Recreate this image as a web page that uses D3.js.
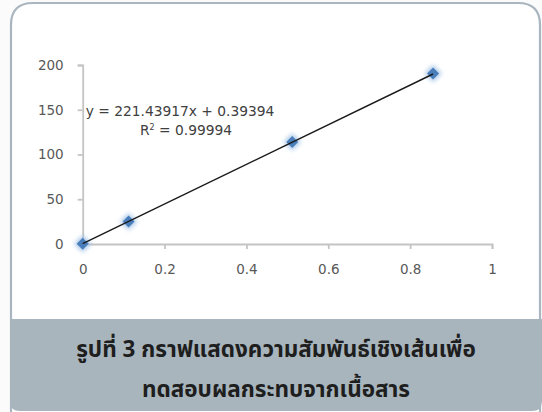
<!DOCTYPE html>
<html>
<head>
<meta charset="utf-8">
<script src="https://cdn.jsdelivr.net/npm/d3@7"></script>
<style>
  body { margin: 0; background: #fbfbfc; }
  svg { display: block; }
</style>
</head>
<body>
<script>
const width = 542;
const height = 412;

// data
const xValues = [0, 0.112, 0.512, 0.856];
const yValues = [0.3, 25, 114, 190.5];
const xTicks = [0, 0.2, 0.4, 0.6, 0.8, 1];
const yTicks = [0, 50, 100, 150, 200];
const slope = 221.43917;
const intercept = 0.39394;
const eqText = "y = 221.43917x + 0.39394";
const r2Value = "0.99994";
const captionLines = ["รูปที่ 3 กราฟแสดงความสัมพันธ์เชิงเส้นเพื่อ", "ทดสอบผลกระทบจากเนื้อสาร"];

const color = {
    border: "#a9b6c0",
    caption: "#a8b5bd",
    axis: "#c4c4c4",
    tickText: "#585858",
    point: "#4a7ebb",
    trend: "#1a1a1a"
}

let svg = d3.select("body").append("svg")
    .attr("width", width)
    .attr("height", height)

// card with rounded corners
const cx0 = 11, cy0 = 3, cx1 = 540, r = 22;
svg.append("path")
    .attr("d", `M${cx0},${height} L${cx0},${cy0 + r} Q${cx0},${cy0} ${cx0 + r},${cy0} L${cx1 - r},${cy0} Q${cx1},${cy0} ${cx1},${cy0 + r} L${cx1},${height}`)
    .attr("fill", "#fff")
    .attr("stroke", color.border)
    .attr("stroke-width", 2.2)

// caption box
const capTop = 319, capBottom = 411, cr = 10;
svg.append("path")
    .attr("d", `M10,${capTop} L542,${capTop} L542,${capBottom - cr} Q542,${capBottom} ${542 - cr},${capBottom} L${10 + cr},${capBottom} Q10,${capBottom} 10,${capBottom - cr} Z`)
    .attr("fill", color.caption)

svg.append("g")
    .selectAll("text")
    .data(captionLines)
    .enter()
    .append("text")
    .attr("x", 276)
    .attr("y", (d, i) => 357 + i * 40)
    .attr("text-anchor", "middle")
    .attr("font-family", "'Noto Sans Thai', 'Noto Sans', 'DejaVu Sans', sans-serif")
    .attr("font-weight", "bold")
    .attr("font-size", 22.5)
    .attr("fill", "#1e1e1e")
    .text(d => d)

// chart
const x = d3.scaleLinear().domain([0, 1]).range([82.7, 492]);
const y = d3.scaleLinear().domain([0, 200]).range([244, 65]);

let chartG = svg.append("g")

let yAxis = chartG.append("g")
    .attr("transform", `translate(${x(0)},0)`)
    .call(d3.axisLeft(y).tickValues(yTicks).tickSize(5).tickPadding(14))
let xAxis = chartG.append("g")
    .attr("transform", `translate(0,${y(0)})`)
    .call(d3.axisBottom(x).tickValues(xTicks).tickSize(5).tickPadding(15)
        .tickFormat(d => String(+d.toFixed(1))))

chartG.selectAll(".domain, .tick line")
    .attr("stroke", color.axis)
    .attr("stroke-width", 1.8)
chartG.selectAll(".tick text")
    .attr("font-family", "'DejaVu Sans', sans-serif")
    .attr("font-size", 13.5)
    .attr("fill", color.tickText)

// markers with soft glow
let defs = svg.append("defs")
defs.append("filter").attr("id", "glow")
    .attr("x", "-100%").attr("y", "-100%").attr("width", "300%").attr("height", "300%")
    .append("feGaussianBlur").attr("stdDeviation", 2)

const pts = xValues.map((v, i) => [v, yValues[i]]);
const marker = d3.symbol().type(d3.symbolSquare);

chartG.append("g")
    .selectAll("path")
    .data(pts)
    .enter()
    .append("path")
    .attr("transform", d => `translate(${x(d[0])},${y(d[1])}) rotate(45)`)
    .attr("d", marker.size(150))
    .attr("fill", "#9fc1e6")
    .attr("opacity", 0.85)
    .attr("filter", "url(#glow)")

chartG.append("g")
    .selectAll("path")
    .data(pts)
    .enter()
    .append("path")
    .attr("transform", d => `translate(${x(d[0])},${y(d[1])}) rotate(45)`)
    .attr("d", marker.size(72))
    .attr("fill", color.point)

// linear trend line
const xMax = d3.max(xValues);
chartG.append("line")
    .attr("x1", x(0))
    .attr("y1", y(intercept))
    .attr("x2", x(xMax))
    .attr("y2", y(slope * xMax + intercept))
    .attr("stroke", color.trend)
    .attr("stroke-width", 1.4)

let eqG = chartG.append("g")
    .attr("font-family", "'DejaVu Sans', sans-serif")
    .attr("font-size", 13.8)
    .attr("fill", "#404040")
    .attr("text-anchor", "middle")
eqG.append("text")
    .attr("x", 180)
    .attr("y", 116)
    .text(eqText)
let r2 = eqG.append("text")
    .attr("x", 186)
    .attr("y", 135)
r2.append("tspan").text("R")
r2.append("tspan").attr("font-size", 8).attr("dy", -5).text("2")
r2.append("tspan").attr("dy", 5).text(" = " + r2Value)
</script>
</body>
</html>
